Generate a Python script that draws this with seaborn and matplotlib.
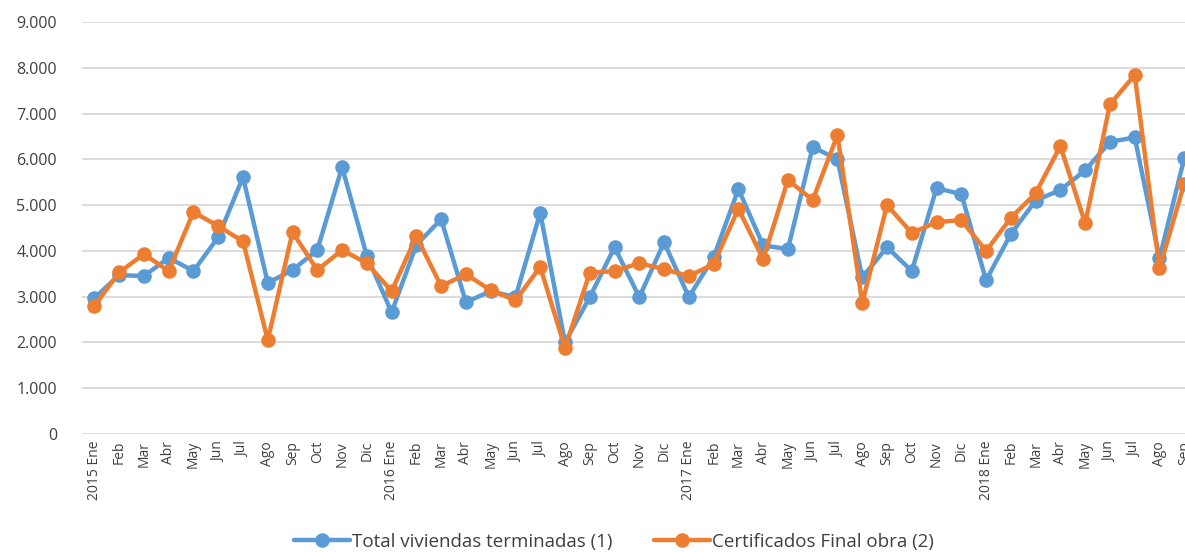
"""
Viviendas terminadas vs certificados de final de obra (2015-2018)
"""

import pandas as pd
import matplotlib
matplotlib.use('Agg')
import matplotlib.pyplot as plt
import matplotlib.ticker as mticker
import seaborn as sns

# Datos
meses = ['2015 Ene', 'Feb', 'Mar', 'Abr', 'May', 'Jun', 'Jul', 'Ago', 'Sep', 'Oct', 'Nov', 'Dic',
         '2016 Ene', 'Feb', 'Mar', 'Abr', 'May', 'Jun', 'Jul', 'Ago', 'Sep', 'Oct', 'Nov', 'Dic',
         '2017 Ene', 'Feb', 'Mar', 'Abr', 'May', 'Jun', 'Jul', 'Ago', 'Sep', 'Oct', 'Nov', 'Dic',
         '2018 Ene', 'Feb', 'Mar', 'Abr', 'May', 'Jun', 'Jul', 'Ago', 'Sep']

total_viviendas = [2970, 3470, 3450, 3850, 3560, 4300, 5610, 3300, 3580, 4020, 5830, 3890,
                   2660, 4130, 4690, 2880, 3120, 2990, 4830, 2000, 2990, 4080, 2990, 4190,
                   2990, 3860, 5350, 4120, 4040, 6270, 6000, 3420, 4080, 3560, 5370, 5240,
                   3360, 4370, 5100, 5330, 5760, 6380, 6480, 3840, 6020]

certificados = [2800, 3530, 3930, 3560, 4850, 4540, 4210, 2050, 4410, 3580, 4020, 3730,
                3120, 4320, 3230, 3490, 3140, 2920, 3650, 1880, 3520, 3560, 3730, 3600,
                3450, 3710, 4920, 3820, 5550, 5110, 6530, 2860, 5000, 4390, 4630, 4670,
                4000, 4720, 5260, 6290, 4600, 7200, 7840, 3620, 5470]

series_names = ['Total viviendas terminadas (1)', 'Certificados Final obra (2)']
colores = ['#5B9BD5', '#ED7D31']

df = pd.DataFrame({
    'idx': list(range(len(meses))) * 2,
    'valor': total_viviendas + certificados,
    'serie': [series_names[0]] * len(meses) + [series_names[1]] * len(meses),
})

sns.set_style('white')
plt.rcParams['font.family'] = ['Open Sans', 'DejaVu Sans']

fig = plt.figure(figsize=(11.85, 5.52), dpi=100)
ax = fig.add_axes([82 / 1185, 118 / 552, 1 - 82 / 1185, (434 - 22) / 552])

sns.lineplot(data=df, x='idx', y='valor', hue='serie', palette=colores,
             marker='o', markersize=10.5, markeredgewidth=0, linewidth=3.2, ax=ax)

ax.set_ylim(0, 9000)
ax.set_xlim(-0.5, 44.03)
ax.yaxis.set_major_locator(mticker.MultipleLocator(1000))
ax.yaxis.set_major_formatter(mticker.FuncFormatter(lambda v, p: f'{int(v):,}'.replace(',', '.')))
ax.grid(axis='y', color='#d9d9d9', linewidth=1.3)
ax.set_axisbelow(True)
for s in ax.spines.values():
    s.set_visible(False)

ax.set_xticks(range(len(meses)))
ax.set_xticklabels(meses, rotation=90, fontsize=10, color='#404040')
ax.tick_params(axis='y', labelsize=11.5, colors='#404040', length=0, pad=18)
ax.tick_params(axis='x', length=0, pad=5)
ax.set_xlabel('')
ax.set_ylabel('')

leg = ax.legend(loc='lower center', bbox_to_anchor=(0.482, -0.325), ncol=2, frameon=False,
                fontsize=13.5, handlelength=3.0, handletextpad=0.1, columnspacing=2.2)
for t in leg.get_texts():
    t.set_color('#404040')

plt.savefig('out.png', dpi=100)
